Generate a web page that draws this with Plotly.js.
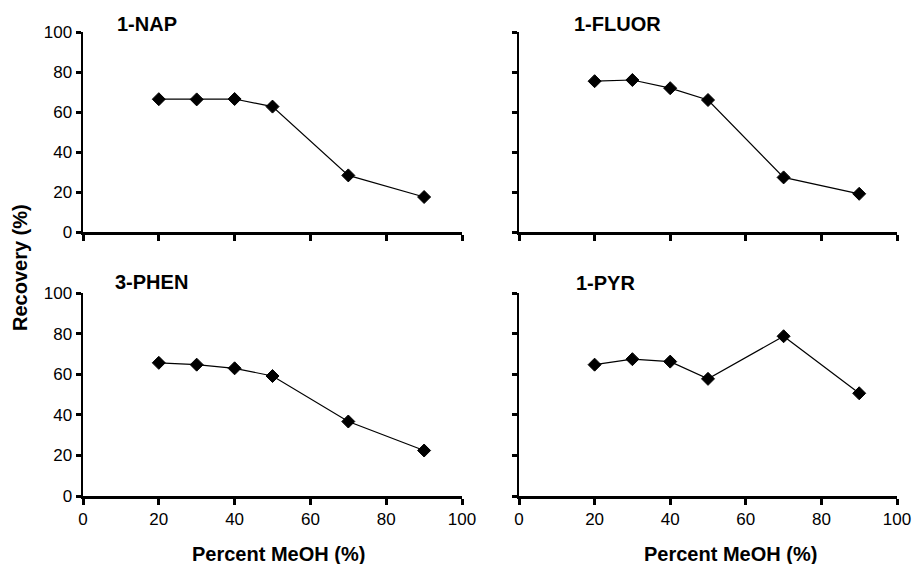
<!DOCTYPE html>
<html><head><meta charset="utf-8">
<script src="https://cdn.plot.ly/plotly-3.0.1.min.js"></script>
<style>html,body{margin:0;padding:0;background:#fff}#chart{width:912px;height:564px}</style>
</head><body><div id="chart"></div>
<script>
const methanol = [20, 30, 40, 50, 70, 90];
const nap = [66.4, 66.3, 66.5, 62.7, 28.3, 17.5];
const fluor = [75.4, 76.0, 71.9, 66.0, 27.3, 19.1];
const phen = [65.6, 64.7, 62.9, 59.1, 36.7, 22.4];
const pyr = [64.7, 67.4, 66.2, 57.7, 78.7, 50.6];
const panelNames = ['1-NAP', '1-FLUOR', '3-PHEN', '1-PYR'];
const tickVals = [0, 20, 40, 60, 80, 100];
const xTitle = 'Percent MeOH (%)';
const yTitle = 'Recovery (%)';

const W = 912, H = 564;
const series = [nap, fluor, phen, pyr];
const axes = [['x','y'],['x2','y2'],['x3','y3'],['x4','y4']];
const traces = series.map((s,i)=>({
  x: methanol, y: s, xaxis: axes[i][0], yaxis: axes[i][1],
  type:'scatter', mode:'lines+markers',
  line:{color:'#000', width:1.2},
  marker:{symbol:'diamond', size:10, color:'#000', line:{color:'#000', width:1}},
  hoverinfo:'skip', showlegend:false
}));

const font = {family:'Liberation Sans, Arial, Helvetica, sans-serif', size:17, color:'#000'};
const xl = [83/W, 462/W], xr = [519/W, 897/W];
const yt = [(H-232)/H, (H-32)/H], yb = [(H-496)/H, (H-293)/H];

function xa(dom, anchor, labels){
  return {domain: dom, anchor: anchor, range:[0,100], tickvals: tickVals, ticktext: tickVals.map(String),
    showticklabels: labels, ticks:'outside', ticklen:6, tickwidth:3, tickcolor:'#000',
    showline:true, linewidth:2.5, linecolor:'#000', showgrid:false, zeroline:false, fixedrange:true,
    tickfont: font};
}
function ya(dom, anchor, labels){
  return {domain: dom, anchor: anchor, range:[0,100], tickvals: tickVals,
    showticklabels: labels, ticks:'outside', ticklen:5, tickwidth:3, tickcolor:'#000',
    showline:true, linewidth:2.5, linecolor:'#000', showgrid:false, zeroline:false, fixedrange:true,
    tickfont: font};
}

const bold = {family:'Liberation Sans, Arial, Helvetica, sans-serif', size:20, color:'#000'};
const annotations = [
  {text:'<b>'+panelNames[0]+'</b>', x:115/W, y:(H-24)/H},
  {text:'<b>'+panelNames[1]+'</b>', x:572/W, y:(H-24)/H},
  {text:'<b>'+panelNames[2]+'</b>', x:113/W, y:(H-282)/H},
  {text:'<b>'+panelNames[3]+'</b>', x:574/W, y:(H-283)/H},
].map(a=>Object.assign(a,{xref:'paper', yref:'paper', xanchor:'left', yanchor:'middle', showarrow:false, font:bold}));
annotations.push({text:'<b>'+xTitle+'</b>', x:278/W, y:(H-554)/H, xref:'paper', yref:'paper', xanchor:'center', yanchor:'middle', showarrow:false, font:bold});
annotations.push({text:'<b>'+xTitle+'</b>', x:730/W, y:(H-554)/H, xref:'paper', yref:'paper', xanchor:'center', yanchor:'middle', showarrow:false, font:bold});
annotations.push({text:'<b>'+yTitle+'</b>', x:20/W, y:(H-268)/H, xref:'paper', yref:'paper', xanchor:'center', yanchor:'middle', textangle:-90, showarrow:false, font:bold});

const layout = {
  width: W, height: H, margin:{l:0,r:0,t:0,b:0},
  paper_bgcolor:'#fff', plot_bgcolor:'#fff', font: font,
  xaxis: xa(xl,'y',false), yaxis: ya(yt,'x',true),
  xaxis2: xa(xr,'y2',false), yaxis2: ya(yt,'x2',false),
  xaxis3: xa(xl,'y3',true), yaxis3: ya(yb,'x3',true),
  xaxis4: xa(xr,'y4',true), yaxis4: ya(yb,'x4',false),
  annotations: annotations
};
Plotly.newPlot('chart', traces, layout, {displayModeBar:false, staticPlot:true});
</script></body></html>
